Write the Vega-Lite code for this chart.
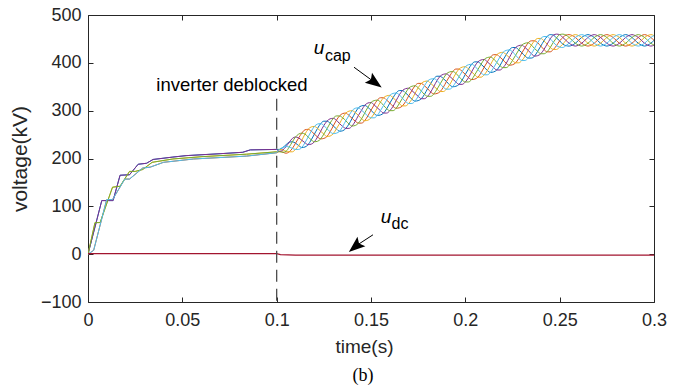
{
  "$schema": "https://vega.github.io/schema/vega-lite/v6.json",
  "width": 566,
  "height": 287,
  "autosize": {"type": "none"},
  "padding": {"left": 88, "top": 15, "right": 33, "bottom": 87},
  "background": "white",
  "title": {"text": "(b)", "orient": "bottom", "font": "Liberation Serif", "fontSize": 18, "fontWeight": "normal", "color": "#000000", "offset": 11, "dx": -8},
  "datasets": {
    "charge": [
      {"t":0,"s":"b","v":0},{"t":0.0073,"s":"b","v":112},{"t":0.0133,"s":"b","v":112},{"t":0.017,"s":"b","v":165},{"t":0.022,"s":"b","v":166},{"t":0.0266,"s":"b","v":188},{"t":0.031,"s":"b","v":190},{"t":0.0345,"s":"b","v":198},{"t":0.045,"s":"b","v":203},{"t":0.052,"s":"b","v":206},{"t":0.07,"s":"b","v":210},{"t":0.082,"s":"b","v":213},{"t":0.086,"s":"b","v":218},{"t":0.1,"s":"b","v":219},
      {"t":0,"s":"o","v":0},{"t":0.003,"s":"o","v":8},{"t":0.0099,"s":"o","v":114},{"t":0.013,"s":"o","v":114},{"t":0.0195,"s":"o","v":157},{"t":0.022,"s":"o","v":157},{"t":0.029,"s":"o","v":180},{"t":0.033,"s":"o","v":182},{"t":0.04,"s":"o","v":192},{"t":0.056,"s":"o","v":199},{"t":0.084,"s":"o","v":205},{"t":0.1,"s":"o","v":212},
      {"t":0,"s":"y","v":0},{"t":0.0037,"s":"y","v":66},{"t":0.0064,"s":"y","v":66},{"t":0.013,"s":"y","v":140},{"t":0.017,"s":"y","v":142},{"t":0.022,"s":"y","v":173},{"t":0.025,"s":"y","v":173},{"t":0.029,"s":"y","v":177},{"t":0.034,"s":"y","v":192},{"t":0.045,"s":"y","v":199},{"t":0.061,"s":"y","v":204},{"t":0.084,"s":"y","v":209},{"t":0.1,"s":"y","v":214},
      {"t":0,"s":"p","v":0},{"t":0.0073,"s":"p","v":112},{"t":0.0133,"s":"p","v":112},{"t":0.017,"s":"p","v":165},{"t":0.022,"s":"p","v":166},{"t":0.0266,"s":"p","v":188},{"t":0.031,"s":"p","v":190},{"t":0.0345,"s":"p","v":198},{"t":0.045,"s":"p","v":203},{"t":0.052,"s":"p","v":206},{"t":0.07,"s":"p","v":210},{"t":0.082,"s":"p","v":213},{"t":0.086,"s":"p","v":218},{"t":0.1,"s":"p","v":219},
      {"t":0,"s":"g","v":0},{"t":0.0037,"s":"g","v":66},{"t":0.0064,"s":"g","v":66},{"t":0.013,"s":"g","v":140},{"t":0.017,"s":"g","v":142},{"t":0.022,"s":"g","v":173},{"t":0.025,"s":"g","v":173},{"t":0.029,"s":"g","v":177},{"t":0.034,"s":"g","v":192},{"t":0.045,"s":"g","v":199},{"t":0.061,"s":"g","v":204},{"t":0.084,"s":"g","v":209},{"t":0.1,"s":"g","v":214},
      {"t":0,"s":"c","v":0},{"t":0.003,"s":"c","v":8},{"t":0.0099,"s":"c","v":114},{"t":0.013,"s":"c","v":114},{"t":0.0195,"s":"c","v":157},{"t":0.022,"s":"c","v":157},{"t":0.029,"s":"c","v":180},{"t":0.033,"s":"c","v":182},{"t":0.04,"s":"c","v":192},{"t":0.056,"s":"c","v":199},{"t":0.084,"s":"c","v":205},{"t":0.1,"s":"c","v":212}
    ],
    "osc": [
      {"t":0.1,"b":219,"p":219,"g":214,"o":212,"y":214,"c":212},
      {"t":0.10167,"b":219,"p":215,"g":214,"o":215,"y":219,"c":220},
      {"t":0.10333,"b":223,"p":218,"g":213,"o":213,"y":218,"c":223},
      {"t":0.105,"b":229,"p":225,"g":215,"o":211,"y":215,"c":225},
      {"t":0.10667,"b":234,"p":234,"g":224,"o":214,"y":214,"c":224},
      {"t":0.10833,"b":235,"p":242,"g":235,"o":221,"y":214,"c":221},
      {"t":0.11,"b":232,"p":245,"g":245,"o":232,"y":219,"c":219},
      {"t":0.11167,"b":227,"p":243,"g":251,"o":243,"y":227,"c":219},
      {"t":0.11333,"b":223,"p":238,"g":253,"o":253,"y":238,"c":223},
      {"t":0.115,"b":224,"p":233,"g":251,"o":260,"y":251,"c":233},
      {"t":0.11667,"b":229,"p":229,"g":245,"o":261,"y":261,"c":245},
      {"t":0.11833,"b":239,"p":230,"g":239,"o":257,"y":266,"c":257},
      {"t":0.12,"b":251,"p":235,"g":235,"o":251,"y":267,"c":267},
      {"t":0.12167,"b":263,"p":245,"g":236,"o":245,"y":263,"c":272},
      {"t":0.12333,"b":273,"p":257,"g":241,"o":241,"y":257,"c":273},
      {"t":0.125,"b":278,"p":269,"g":251,"o":242,"y":251,"c":269},
      {"t":0.12667,"b":278,"p":278,"g":262,"o":246,"y":246,"c":262},
      {"t":0.12833,"b":274,"p":283,"g":274,"o":256,"y":247,"c":256},
      {"t":0.13,"b":268,"p":284,"g":284,"o":268,"y":252,"c":252},
      {"t":0.13167,"b":262,"p":280,"g":289,"o":280,"y":262,"c":253},
      {"t":0.13333,"b":257,"p":273,"g":289,"o":289,"y":273,"c":257},
      {"t":0.135,"b":258,"p":267,"g":285,"o":294,"y":285,"c":267},
      {"t":0.13667,"b":263,"p":263,"g":279,"o":295,"y":295,"c":279},
      {"t":0.13833,"b":272,"p":263,"g":272,"o":290,"y":299,"c":290},
      {"t":0.14,"b":284,"p":268,"g":268,"o":284,"y":300,"c":300},
      {"t":0.14167,"b":296,"p":278,"g":269,"o":278,"y":296,"c":305},
      {"t":0.14333,"b":306,"p":290,"g":274,"o":274,"y":290,"c":306},
      {"t":0.145,"b":310,"p":301,"g":283,"o":274,"y":283,"c":301},
      {"t":0.14667,"b":311,"p":311,"g":295,"o":279,"y":279,"c":295},
      {"t":0.14833,"b":307,"p":316,"g":307,"o":289,"y":280,"c":289},
      {"t":0.15,"b":301,"p":317,"g":317,"o":301,"y":285,"c":285},
      {"t":0.15167,"b":294,"p":312,"g":321,"o":312,"y":294,"c":285},
      {"t":0.15333,"b":290,"p":306,"g":322,"o":322,"y":306,"c":290},
      {"t":0.155,"b":291,"p":300,"g":318,"o":327,"y":318,"c":300},
      {"t":0.15667,"b":295,"p":295,"g":311,"o":327,"y":327,"c":311},
      {"t":0.15833,"b":304,"p":295,"g":304,"o":322,"y":331,"c":322},
      {"t":0.16,"b":316,"p":300,"g":300,"o":316,"y":332,"c":332},
      {"t":0.16167,"b":327,"p":309,"g":300,"o":309,"y":327,"c":336},
      {"t":0.16333,"b":337,"p":321,"g":305,"o":305,"y":321,"c":337},
      {"t":0.165,"b":342,"p":333,"g":315,"o":306,"y":315,"c":333},
      {"t":0.16667,"b":342,"p":342,"g":326,"o":310,"y":310,"c":326},
      {"t":0.16833,"b":337,"p":346,"g":337,"o":319,"y":310,"c":319},
      {"t":0.17,"b":331,"p":347,"g":347,"o":331,"y":315,"c":315},
      {"t":0.17167,"b":324,"p":342,"g":351,"o":342,"y":324,"c":315},
      {"t":0.17333,"b":320,"p":336,"g":352,"o":352,"y":336,"c":320},
      {"t":0.175,"b":321,"p":330,"g":348,"o":357,"y":348,"c":330},
      {"t":0.17667,"b":325,"p":325,"g":341,"o":357,"y":357,"c":341},
      {"t":0.17833,"b":334,"p":325,"g":334,"o":352,"y":361,"c":352},
      {"t":0.18,"b":346,"p":330,"g":330,"o":346,"y":362,"c":362},
      {"t":0.18167,"b":357,"p":339,"g":330,"o":339,"y":357,"c":366},
      {"t":0.18333,"b":367,"p":351,"g":335,"o":335,"y":351,"c":367},
      {"t":0.185,"b":372,"p":363,"g":345,"o":336,"y":345,"c":363},
      {"t":0.18667,"b":372,"p":372,"g":356,"o":340,"y":340,"c":356},
      {"t":0.18833,"b":367,"p":376,"g":367,"o":349,"y":340,"c":349},
      {"t":0.19,"b":361,"p":377,"g":377,"o":361,"y":345,"c":345},
      {"t":0.19167,"b":354,"p":372,"g":381,"o":372,"y":354,"c":345},
      {"t":0.19333,"b":350,"p":366,"g":382,"o":382,"y":366,"c":350},
      {"t":0.195,"b":351,"p":360,"g":378,"o":387,"y":378,"c":360},
      {"t":0.19667,"b":355,"p":355,"g":371,"o":387,"y":387,"c":371},
      {"t":0.19833,"b":364,"p":355,"g":364,"o":382,"y":391,"c":382},
      {"t":0.2,"b":376,"p":360,"g":360,"o":376,"y":392,"c":392},
      {"t":0.20167,"b":387,"p":369,"g":360,"o":369,"y":387,"c":396},
      {"t":0.20333,"b":397,"p":381,"g":365,"o":365,"y":381,"c":397},
      {"t":0.205,"b":402,"p":393,"g":375,"o":366,"y":375,"c":393},
      {"t":0.20667,"b":402,"p":402,"g":386,"o":370,"y":370,"c":386},
      {"t":0.20833,"b":397,"p":406,"g":397,"o":379,"y":370,"c":379},
      {"t":0.21,"b":391,"p":407,"g":407,"o":391,"y":375,"c":375},
      {"t":0.21167,"b":384,"p":402,"g":411,"o":402,"y":384,"c":375},
      {"t":0.21333,"b":380,"p":396,"g":412,"o":412,"y":396,"c":380},
      {"t":0.215,"b":381,"p":390,"g":408,"o":417,"y":408,"c":390},
      {"t":0.21667,"b":385,"p":385,"g":401,"o":417,"y":417,"c":401},
      {"t":0.21833,"b":394,"p":385,"g":394,"o":412,"y":421,"c":412},
      {"t":0.22,"b":406,"p":390,"g":390,"o":406,"y":422,"c":422},
      {"t":0.22167,"b":417,"p":399,"g":390,"o":399,"y":417,"c":426},
      {"t":0.22333,"b":427,"p":411,"g":395,"o":395,"y":411,"c":427},
      {"t":0.225,"b":432,"p":423,"g":405,"o":396,"y":405,"c":423},
      {"t":0.22667,"b":432,"p":432,"g":416,"o":400,"y":400,"c":416},
      {"t":0.22833,"b":427,"p":436,"g":427,"o":409,"y":400,"c":409},
      {"t":0.23,"b":421,"p":437,"g":437,"o":421,"y":405,"c":405},
      {"t":0.23167,"b":414,"p":432,"g":441,"o":432,"y":414,"c":405},
      {"t":0.23333,"b":410,"p":426,"g":442,"o":442,"y":426,"c":410},
      {"t":0.235,"b":410,"p":419,"g":437,"o":446,"y":437,"c":419},
      {"t":0.23667,"b":414,"p":414,"g":430,"o":446,"y":446,"c":430},
      {"t":0.23833,"b":424,"p":415,"g":424,"o":442,"y":451,"c":442},
      {"t":0.24,"b":435,"p":419,"g":419,"o":435,"y":451,"c":451},
      {"t":0.24167,"b":446,"p":428,"g":419,"o":428,"y":446,"c":455},
      {"t":0.24333,"b":455,"p":439,"g":423,"o":423,"y":439,"c":455},
      {"t":0.245,"b":459,"p":450,"g":432,"o":423,"y":432,"c":450},
      {"t":0.24667,"b":458,"p":458,"g":443,"o":428,"y":428,"c":443},
      {"t":0.24833,"b":452,"p":460,"g":452,"o":436,"y":428,"c":436},
      {"t":0.25,"b":446,"p":459,"g":459,"o":446,"y":433,"c":433},
      {"t":0.25167,"b":439,"p":453,"g":460,"o":453,"y":439,"c":432},
      {"t":0.25333,"b":436,"p":447,"g":458,"o":458,"y":447,"c":436},
      {"t":0.255,"b":435,"p":441,"g":453,"o":459,"y":453,"c":441},
      {"t":0.25667,"b":437,"p":437,"g":447,"o":457,"y":457,"c":447},
      {"t":0.25833,"b":441,"p":435,"g":441,"o":453,"y":459,"c":453},
      {"t":0.26,"b":447,"p":437,"g":437,"o":447,"y":457,"c":457},
      {"t":0.26167,"b":453,"p":441,"g":435,"o":441,"y":453,"c":459},
      {"t":0.26333,"b":457,"p":447,"g":437,"o":437,"y":447,"c":457},
      {"t":0.265,"b":459,"p":453,"g":441,"o":435,"y":441,"c":453},
      {"t":0.26667,"b":457,"p":457,"g":447,"o":437,"y":437,"c":447},
      {"t":0.26833,"b":453,"p":459,"g":453,"o":441,"y":435,"c":441},
      {"t":0.27,"b":447,"p":457,"g":457,"o":447,"y":437,"c":437},
      {"t":0.27167,"b":441,"p":453,"g":459,"o":453,"y":441,"c":435},
      {"t":0.27333,"b":437,"p":447,"g":457,"o":457,"y":447,"c":437},
      {"t":0.275,"b":435,"p":441,"g":453,"o":459,"y":453,"c":441},
      {"t":0.27667,"b":437,"p":437,"g":447,"o":457,"y":457,"c":447},
      {"t":0.27833,"b":441,"p":435,"g":441,"o":453,"y":459,"c":453},
      {"t":0.28,"b":447,"p":437,"g":437,"o":447,"y":457,"c":457},
      {"t":0.28167,"b":453,"p":441,"g":435,"o":441,"y":453,"c":459},
      {"t":0.28333,"b":457,"p":447,"g":437,"o":437,"y":447,"c":457},
      {"t":0.285,"b":459,"p":453,"g":441,"o":435,"y":441,"c":453},
      {"t":0.28667,"b":457,"p":457,"g":447,"o":437,"y":437,"c":447},
      {"t":0.28833,"b":453,"p":459,"g":453,"o":441,"y":435,"c":441},
      {"t":0.29,"b":447,"p":457,"g":457,"o":447,"y":437,"c":437},
      {"t":0.29167,"b":441,"p":453,"g":459,"o":453,"y":441,"c":435},
      {"t":0.29333,"b":437,"p":447,"g":457,"o":457,"y":447,"c":437},
      {"t":0.295,"b":435,"p":441,"g":453,"o":459,"y":453,"c":441},
      {"t":0.29667,"b":437,"p":437,"g":447,"o":457,"y":457,"c":447},
      {"t":0.29833,"b":441,"p":435,"g":441,"o":453,"y":459,"c":453},
      {"t":0.3,"b":447,"p":437,"g":437,"o":447,"y":457,"c":457}
    ],
    "udc": [
      {"t":0,"s":"dc","v":1},{"t":0.1,"s":"dc","v":1},{"t":0.102,"s":"dc","v":-1},{"t":0.11,"s":"dc","v":-2},{"t":0.3,"s":"dc","v":-2}
    ]
  },
  "encoding": {
    "x": {"field": "t", "type": "quantitative", "scale": {"domain": [0, 0.3], "nice": false, "zero": false}},
    "y": {"field": "v", "type": "quantitative", "scale": {"domain": [-100, 500], "nice": false, "zero": false}}
  },
  "layer": [
    {
      "data": {"name": "charge"},
      "mark": {"type": "line", "strokeWidth": 1, "clip": true},
      "encoding": {
        "x": {"field": "t", "type": "quantitative", "axis": {"orient": "bottom", "values": [0, 0.05, 0.1, 0.15, 0.2, 0.25, 0.3], "format": "~f", "title": "time(s)", "labelPadding": 14, "titlePadding": 8, "titleFontSize": 19, "titleX": 276, "labelFlush": false}},
        "y": {"field": "v", "type": "quantitative", "axis": {"orient": "left", "values": [-100, 0, 100, 200, 300, 400, 500], "format": "d", "title": "voltage(kV)", "labelPadding": 12, "titlePadding": 10, "titleFontSize": 21}},
        "color": {"field": "s", "type": "nominal", "legend": null, "scale": {"domain": ["b", "o", "y", "p", "g", "c", "dc"], "range": ["#0072BD", "#D95319", "#EDB120", "#7E2F8E", "#77AC30", "#4DBEEE", "#A2142F"]}}
      }
    },
    {
      "data": {"name": "osc"},
      "transform": [{"fold": ["b", "o", "y", "p", "g", "c"], "as": ["s", "v"]}],
      "mark": {"type": "line", "strokeWidth": 1, "interpolate": "monotone", "clip": true},
      "encoding": {
        "x": {"field": "t", "type": "quantitative", "axis": null},
        "y": {"field": "v", "type": "quantitative", "axis": null},
        "color": {"field": "s", "type": "nominal", "legend": null}
      }
    },
    {
      "data": {"name": "udc"},
      "mark": {"type": "line", "strokeWidth": 1.2, "clip": true},
      "encoding": {
        "x": {"field": "t", "type": "quantitative", "axis": null},
        "y": {"field": "v", "type": "quantitative", "axis": null},
        "color": {"field": "s", "type": "nominal", "legend": null}
      }
    },
    {
      "data": {"values": [{"t": 0.1, "v": 325, "v2": -100}]},
      "mark": {"type": "rule", "color": "#4d4d4d", "strokeWidth": 1.3, "strokeDash": [12, 7]},
      "encoding": {
        "x": {"field": "t", "type": "quantitative", "axis": {"orient": "top", "values": [0, 0.05, 0.1, 0.15, 0.2, 0.25, 0.3], "labels": false, "title": null}},
        "y": {"field": "v", "type": "quantitative", "axis": {"orient": "right", "values": [-100, 0, 100, 200, 300, 400, 500], "labels": false, "title": null}},
        "y2": {"field": "v2"}
      }
    },
    {
      "data": {"values": [{"t": 0.14099, "v": 390.8, "t2": 0.15127, "v2": 361.2}, {"t": 0.15106, "v": 40.5, "t2": 0.14242, "v2": 18.3}]},
      "mark": {"type": "rule", "color": "#000000", "strokeWidth": 1},
      "encoding": {
        "x": {"field": "t", "type": "quantitative", "axis": null},
        "y": {"field": "v", "type": "quantitative", "axis": null},
        "x2": {"field": "t2"},
        "y2": {"field": "v2"}
      }
    },
    {
      "data": {"values": [{"t": 0.15127, "v": 361.2}]},
      "mark": {"type": "point", "shape": "M0,-1L0.6,0.6L0,0.3L-0.6,0.6Z", "filled": true, "size": 420, "angle": 126, "color": "#000000", "opacity": 1},
      "encoding": {
        "x": {"field": "t", "type": "quantitative", "axis": null},
        "y": {"field": "v", "type": "quantitative", "axis": null}
      }
    },
    {
      "data": {"values": [{"t": 0.14242, "v": 18.3}]},
      "mark": {"type": "point", "shape": "M0,-1L0.6,0.6L0,0.3L-0.6,0.6Z", "filled": true, "size": 420, "angle": 230, "color": "#000000", "opacity": 1},
      "encoding": {
        "x": {"field": "t", "type": "quantitative", "axis": null},
        "y": {"field": "v", "type": "quantitative", "axis": null}
      }
    },
    {
      "data": {"values": [{"t": 0.0763, "v": 353, "label": "inverter deblocked"}]},
      "mark": {"type": "text", "font": "Liberation Sans", "fontSize": 18.5, "align": "center", "baseline": "middle", "color": "#000000"},
      "encoding": {
        "x": {"field": "t", "type": "quantitative", "axis": null},
        "y": {"field": "v", "type": "quantitative", "axis": null},
        "text": {"field": "label"}
      }
    },
    {
      "data": {"values": [{"t": 0.1224, "v": 431, "label": "u"}, {"t": 0.158, "v": 78, "label": "u"}]},
      "mark": {"type": "text", "font": "Liberation Sans", "fontSize": 19, "fontStyle": "italic", "align": "center", "baseline": "middle", "color": "#000000"},
      "encoding": {
        "x": {"field": "t", "type": "quantitative", "axis": null},
        "y": {"field": "v", "type": "quantitative", "axis": null},
        "text": {"field": "label"}
      }
    },
    {
      "data": {"values": [{"t": 0.1256, "v": 404, "label": "cap"}, {"t": 0.1609, "v": 52.4, "label": "dc"}]},
      "mark": {"type": "text", "font": "Liberation Sans", "fontSize": 16, "align": "left", "baseline": "alphabetic", "color": "#000000"},
      "encoding": {
        "x": {"field": "t", "type": "quantitative", "axis": null},
        "y": {"field": "v", "type": "quantitative", "axis": null},
        "text": {"field": "label"}
      }
    }
  ],
  "resolve": {"axis": {"x": "independent", "y": "independent"}},
  "config": {
    "font": "Liberation Sans",
    "view": {"stroke": null},
    "axis": {
      "grid": false,
      "domainColor": "#262626",
      "tickColor": "#262626",
      "labelColor": "#262626",
      "titleColor": "#262626",
      "labelFont": "Liberation Sans",
      "titleFont": "Liberation Sans",
      "labelFontSize": 18,
      "titleFontSize": 19,
      "titleFontWeight": "normal",
      "tickSize": -5,
      "tickWidth": 1,
      "domainWidth": 1
    }
  }
}
